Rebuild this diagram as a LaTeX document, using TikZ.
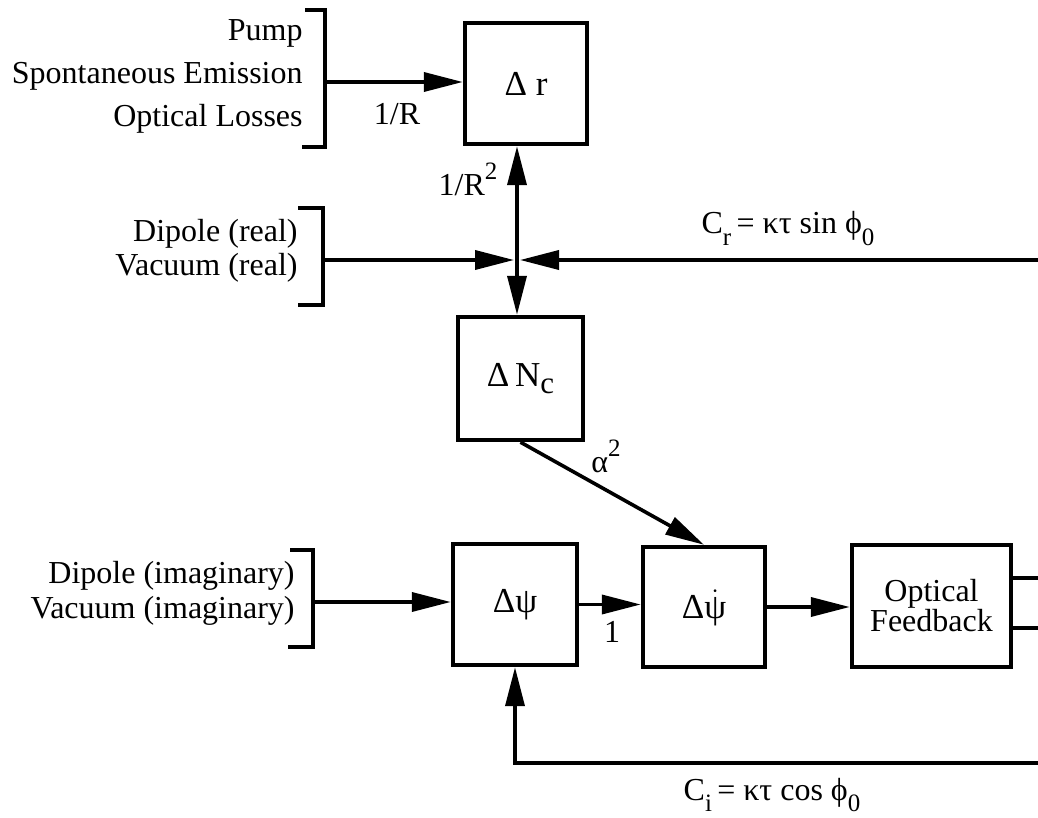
\documentclass[tikz,border=0pt]{standalone}
\usepackage{fontspec}
\setmainfont{Liberation Serif}
\usetikzlibrary{arrows.meta}
\newcommand\lsub[1]{\raisebox{-0.36em}{\fontsize{12.5}{12.5}\selectfont #1}}
\newcommand\csub[1]{\raisebox{-0.22em}{\fontsize{15.5}{15.5}\selectfont #1}}
\newcommand\lsup[1]{\raisebox{0.5em}{\fontsize{12.5}{12.5}\selectfont #1}}
\begin{document}
\begin{tikzpicture}[x=0.5pt,y=-0.5pt,
  every node/.style={font=\fontsize{16}{17}\selectfont, inner sep=0pt},
  blk/.style={draw, line width=2.2pt, minimum width=61pt, minimum height=61pt,
              font=\fontsize{17.5}{18}\selectfont},
  ln/.style={line width=1.8pt},
  tip/.tip={Triangle[length=19.5pt,width=9.5pt]},
  arr/.style={ln, -tip},
  brk/.style={line width=1.9pt},
  lbl/.style={anchor=base east}]
\useasboundingbox (0,0) rectangle (1038,818);

% blocks
\node[blk, minimum width=61pt, minimum height=60.5pt] (dr) at (526,83.5) {Δ r};
\node[blk, minimum width=62.5pt, minimum height=61.5pt] (dn) at (520.5,378.5) {Δ\,N\csub{c}};
\node[blk, minimum width=62pt, minimum height=60.5pt] (dpsi) at (515,604.5) {Δψ};
\node[blk, minimum width=61pt, minimum height=60pt] (dpsid) at (704,607) {Δ\raisebox{0pt}[0pt][0pt]{$\dot{\hbox{ψ}}$}};
\node[blk, minimum width=79.5pt, minimum height=61pt, align=center,
      font=\fontsize{16}{15}\selectfont] (of) at (931.5,606) {Optical\\Feedback};

% source texts
\node[lbl] (p1) at (303,41) {Pump};
\node[lbl] (p2) at (303,84) {Spontaneous Emission};
\node[lbl] (p3) at (303,127) {Optical Losses};
\node[lbl] (r1) at (298,242) {Dipole (real)};
\node[lbl] (r2) at (298,276) {Vacuum (real)};
\node[lbl] (i1) at (295,583) {Dipole (imaginary)};
\node[lbl] (i2) at (295,618) {Vacuum (imaginary)};

% brackets
\draw[brk] (305,10) -- (325,10) -- (325,147) -- (302,147);
\draw[brk] (298,208) -- (323,208) -- (323,305) -- (298,305);
\draw[brk] (290,550) -- (313,550) -- (313,647) -- (288,647);

\coordinate (b1) at (325,82);
\coordinate (b2) at (323,260);
\coordinate (b3) at (313,602);
\coordinate (J) at (517,260);
\coordinate (Jl) at (514,260);
\coordinate (Jr) at (520,260);
\coordinate (er) at (1042,260);
\coordinate (o1) at (1042,578);
\coordinate (o2) at (1042,628);
\coordinate (eb) at (1042,763);

% connectors
\draw[arr] (b1) -- (b1 -| dr.west);
\draw[ln, tip-tip] (J |- dr.south) -- (J |- dn.north);
\draw[arr] (b2) -- (Jl);
\draw[arr] (er) -- (Jr);
\draw[arr] (dn.south) -- (dpsid.north);
\draw[arr] (b3) -- (b3 -| dpsi.west);
\draw[arr] (dpsi.east) -- (dpsi.east -| dpsid.west);
\draw[arr] (dpsid.east) -- (dpsid.east -| of.west);
\draw[ln] (of.east |- o1) -- (o1);
\draw[ln] (of.east |- o2) -- (o2);
\draw[arr] (eb) -- (eb -| dpsi.south) -- (dpsi.south);

% labels
\node[anchor=base] (lr) at (397,125) {1/R};
\node[anchor=base] (lr2) at (468,196) {1/R\lsup{2}};
\node[anchor=base] (cr) at (788,234) {C\lsub{r}\,= κτ sin ϕ\lsub{0}};
\node[anchor=base] (al) at (606,472) {α\lsup{2}};
\node[anchor=base] (one) at (612,642) {1};
\node[anchor=base] (ci) at (772,800) {C\lsub{i}\,= κτ cos ϕ\lsub{0}};
\end{tikzpicture}
\end{document}
